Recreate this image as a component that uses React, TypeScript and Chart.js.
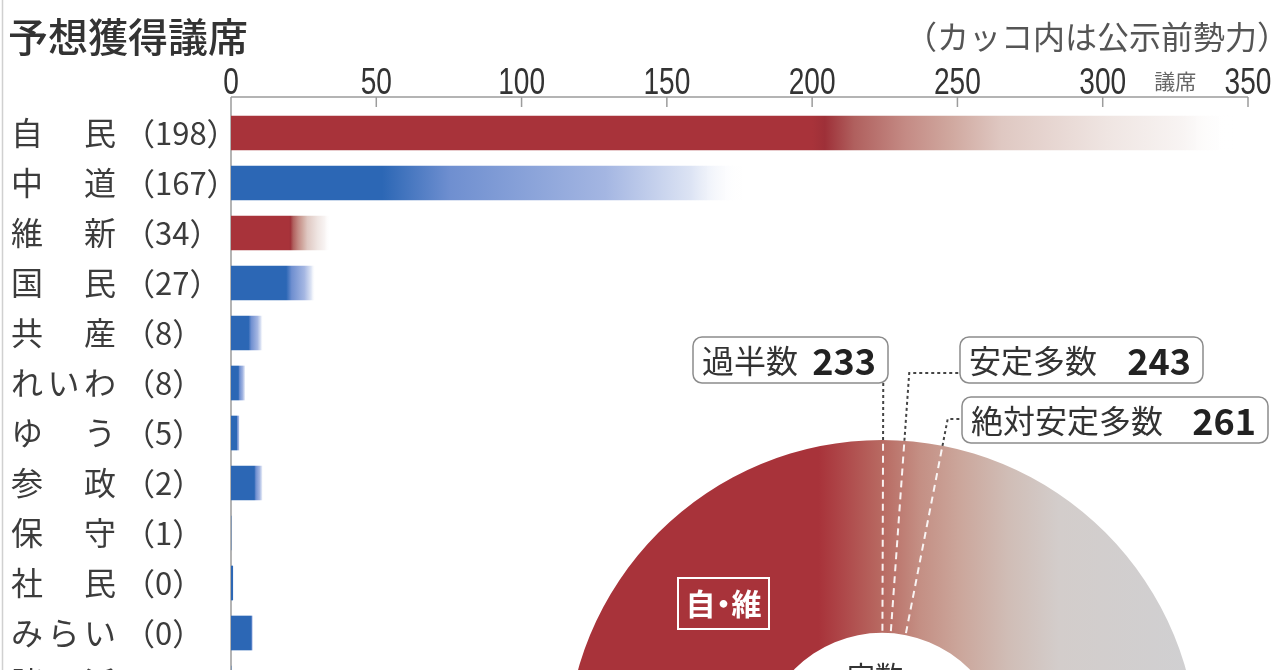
import { useEffect, useRef } from 'react';
import { Chart, registerables } from 'chart.js';

Chart.register(...registerables);

// ---- data ----
const parties = ['自民', '中道', '維新', '国民', '共産', 'れいわ', 'ゆう', '参政', '保守', '社民', 'みらい', '諸派'];
const preElectionSeats: (number | null)[] = [198, 167, 34, 27, 8, 8, 5, 2, 1, 0, 0, null];
const seatsLow = [200, 52, 20, 19, 6, 2.5, 2, 8, 0, 0.6, 7, 0];
const seatsHigh = [345, 176, 34, 29, 11, 5, 3, 11, 0, 0.6, 7.5, 0];
const coalition = ['自民', '維新'];
const xTicks = [0, 50, 100, 150, 200, 250, 300, 350];

const totalSeats = [465];
const thresholdNames = ['過半数', '安定多数', '絶対安定多数'];
const thresholdSeats = [233, 243, 261];

// ---- styles ----
const CJK = '"Noto Sans CJK JP", "Noto Sans", sans-serif';
const LATIN = '"Liberation Sans", Arial, sans-serif';
const RED = '#a8333a';
const BLUE = '#2c67b5';
const RED_FADE: [number, string][] = [
  [0.03, '#9e3038'], [0.1, '#b0605e'], [0.22, '#c48a84'], [0.33, '#d0a89f'],
  [0.45, '#dfc8c2'], [0.7, '#efe5e2'], [0.88, '#f8f4f3'], [1, 'rgba(255,255,255,0)'],
];
const BLUE_FADE: [number, string][] = [
  [0.19, '#6f8fd0'], [0.62, '#a4b6e2'], [0.86, '#dde4f4'], [1, 'rgba(255,255,255,0)'],
];
// horizontal colour stops across the ring (fraction of ring width)
const RING_STOPS: [number, string][] = [
  [0, '#a8333a'], [0.4, '#a8333a'], [0.43, '#ad4346'], [0.5, '#b86a62'], [0.56, '#c48f84'],
  [0.62, '#cba59a'], [0.7, '#d0bdb6'], [0.78, '#d3cdcb'], [1, '#d0d0d2'],
];

const barDecor = {
  id: 'barDecor',
  beforeDatasetsDraw(chart: any) {
    const { ctx, scales: { x } } = chart;
    const axisY = 97;
    const x0 = x.getPixelForValue(0);
    ctx.save();
    ctx.strokeStyle = '#9c9c9c';
    ctx.lineWidth = 1.5;
    ctx.beginPath();
    ctx.moveTo(x0, axisY);
    ctx.lineTo(x0, chart.height);
    ctx.moveTo(x0, axisY);
    ctx.lineTo(x.getPixelForValue(350), axisY);
    xTicks.forEach((v) => {
      const px = x.getPixelForValue(v);
      ctx.moveTo(px, axisY);
      ctx.lineTo(px, axisY + 10);
    });
    ctx.stroke();
    ctx.strokeStyle = '#d0d0d0';
    ctx.beginPath();
    ctx.moveTo(2.5, 0);
    ctx.lineTo(2.5, chart.height);
    ctx.stroke();

    // condensed tick labels
    ctx.fillStyle = '#333';
    ctx.font = `36px ${LATIN}`;
    ctx.textAlign = 'center';
    ctx.textBaseline = 'alphabetic';
    xTicks.forEach((v) => {
      ctx.save();
      ctx.translate(x.getPixelForValue(v), 94);
      ctx.scale(0.78, 1);
      ctx.fillText(String(v), 0, 0);
      ctx.restore();
    });
    ctx.restore();
  },
  afterDraw(chart: any) {
    const { ctx, scales: { x, y } } = chart;
    ctx.save();
    ctx.textBaseline = 'middle';
    ctx.textAlign = 'left';
    ctx.fillStyle = '#333';
    ctx.font = `500 40px ${CJK}`;
    ctx.fillText('予想獲得議席', 8, 37);

    ctx.font = `32px ${CJK}`;
    ctx.fillStyle = '#555';
    ctx.textAlign = 'right';
    ctx.fillText('（カッコ内は公示前勢力）', 1289, 37);

    ctx.textAlign = 'center';
    ctx.font = `21px ${CJK}`;
    ctx.fillStyle = '#666';
    ctx.fillText('議席', x.getPixelForValue(325), 81);

    ctx.textAlign = 'left';
    ctx.fillStyle = '#3c3c3c';
    parties.forEach((name, i) => {
      const py = y.getPixelForValue(i);
      const chars = [...name];
      const slots = chars.length === 2 ? [0, 2] : [0, 1, 2];
      ctx.font = `32px ${CJK}`;
      chars.forEach((ch, k) => ctx.fillText(ch, 11 + slots[k] * 36.5, py));
      const n = preElectionSeats[i];
      if (n !== null) {
        ctx.font = `31px ${CJK}`;
        ctx.fillText(`（${n}）`, 124, py);
      }
    });
    ctx.restore();
  },
};

function SeatBars() {
  const canvasRef = useRef<HTMLCanvasElement>(null);

  useEffect(() => {
    if (!canvasRef.current) return;
    const chart = new Chart(canvasRef.current, {
      type: 'bar',
      data: {
        labels: parties,
        datasets: [{
          data: seatsHigh,
          barThickness: 34,
          borderWidth: 0,
          backgroundColor: (c: any) => {
            const i = c.dataIndex;
            const isRuling = coalition.includes(parties[i]);
            const base = isRuling ? RED : BLUE;
            const fade = isRuling ? RED_FADE : BLUE_FADE;
            const xs = c.chart.scales?.x;
            if (!xs || i === undefined) return base;
            const x0 = xs.getPixelForValue(0);
            const xl = xs.getPixelForValue(seatsLow[i]);
            const xh = xs.getPixelForValue(seatsHigh[i]);
            if (![x0, xl, xh].every(Number.isFinite) || xh - xl < 1) return base;
            const span = xh - x0;
            const g = c.chart.ctx.createLinearGradient(x0, 0, xh, 0);
            g.addColorStop(0, base);
            g.addColorStop((xl - x0) / span, base);
            fade.forEach(([t, col]) => g.addColorStop(Math.min(1, (xl - x0 + t * (xh - xl)) / span), col));
            return g;
          },
        }],
      },
      options: {
        indexAxis: 'y',
        animation: false,
        responsive: true,
        maintainAspectRatio: false,
        layout: { padding: { left: 231, right: 32, top: 0, bottom: 0 } },
        plugins: { legend: { display: false }, tooltip: { enabled: false } },
        events: [],
        scales: {
          x: {
            position: 'top',
            min: 0,
            max: 350,
            afterBuildTicks: (s: any) => { s.ticks = xTicks.map((v) => ({ value: v })); },
            afterFit: (s: any) => { s.height = 108; },
            ticks: { display: false },
            grid: { display: false, drawTicks: false },
            border: { display: false },
          },
          y: { display: false },
        },
      },
      plugins: [barDecor],
    });
    return () => { chart.destroy(); };
  }, []);

  return (
    <div style={{ position: 'absolute', left: 0, top: 0, width: 1280, height: 708 }}>
      <canvas ref={canvasRef} />
    </div>
  );
}

// annotation layout in donut-canvas coordinates
const BOXES = [
  { left: 133, top: 17, width: 195 },
  { left: 400, top: 17, width: 243 },
  { left: 402, top: 77, width: 306 },
];
const LEADERS = [
  { topY: 63, toX: null as number | null },
  { topY: 53, toX: 400 },
  { topY: 99, toX: 402 },
];

function roundRect(ctx: CanvasRenderingContext2D, x: number, y: number, w: number, h: number, r: number) {
  ctx.beginPath();
  ctx.moveTo(x + r, y);
  ctx.arcTo(x + w, y, x + w, y + h, r);
  ctx.arcTo(x + w, y + h, x, y + h, r);
  ctx.arcTo(x, y + h, x, y, r);
  ctx.arcTo(x, y, x + w, y, r);
  ctx.closePath();
}

const ringDecor = {
  id: 'ringDecor',
  afterDatasetsDraw(chart: any) {
    const { ctx } = chart;
    const arc = chart.getDatasetMeta(0).data[0];
    const { x: cx, y: cy, innerRadius, outerRadius } = arc.getProps(['x', 'y', 'innerRadius', 'outerRadius'], true);
    const total = totalSeats[0];
    const ang = (s: number) => Math.PI + (s / total) * Math.PI;
    ctx.save();

    // dashed threshold lines across the ring
    ctx.strokeStyle = 'rgba(255,255,255,0.9)';
    ctx.lineWidth = 2;
    ctx.setLineDash([7, 5]);
    thresholdSeats.forEach((s) => {
      const a = ang(s);
      ctx.beginPath();
      ctx.moveTo(cx + (innerRadius + 2) * Math.cos(a), cy + (innerRadius + 2) * Math.sin(a));
      ctx.lineTo(cx + outerRadius * Math.cos(a), cy + outerRadius * Math.sin(a));
      ctx.stroke();
    });

    // leader lines above the ring
    ctx.strokeStyle = '#444';
    ctx.lineWidth = 2;
    ctx.setLineDash([3, 3]);
    thresholdSeats.forEach((s, i) => {
      const a = ang(s);
      const px = cx + outerRadius * Math.cos(a);
      const py = cy + outerRadius * Math.sin(a);
      const t = (py - LEADERS[i].topY) / -Math.sin(a);
      const qx = px + t * Math.cos(a);
      const qy = LEADERS[i].topY;
      ctx.beginPath();
      ctx.moveTo(px, py);
      ctx.lineTo(qx, qy);
      if (LEADERS[i].toX !== null) ctx.lineTo(LEADERS[i].toX as number, qy);
      ctx.stroke();
    });
    ctx.setLineDash([]);

    // threshold boxes
    thresholdNames.forEach((name, i) => {
      const b = BOXES[i];
      const h = 46;
      roundRect(ctx, b.left, b.top, b.width, h, 9);
      ctx.fillStyle = '#fff';
      ctx.fill();
      ctx.strokeStyle = '#8c8c8c';
      ctx.lineWidth = 1.5;
      ctx.stroke();
      ctx.textBaseline = 'middle';
      ctx.fillStyle = '#333';
      ctx.textAlign = 'left';
      ctx.font = `32px ${CJK}`;
      ctx.fillText(name, b.left + 9, b.top + h / 2 + 1);
      ctx.textAlign = 'right';
      ctx.fillStyle = '#222';
      ctx.font = `bold 36px ${CJK}`;
      ctx.fillText(String(thresholdSeats[i]), b.left + b.width - 12, b.top + h / 2 + 1);
    });

    // 自・維 label
    const lx = cx - 205;
    const ly = cy - 179;
    ctx.fillStyle = RED;
    ctx.fillRect(lx, ly, 93, 53);
    ctx.strokeStyle = '#fff';
    ctx.lineWidth = 2;
    ctx.strokeRect(lx + 1, ly + 1, 91, 51);
    ctx.fillStyle = '#fff';
    ctx.textAlign = 'center';
    ctx.textBaseline = 'middle';
    ctx.font = `bold 30px ${CJK}`;
    (ctx as any).letterSpacing = '-7px';
    ctx.fillText('自・維', lx + 43, ly + 27);
    (ctx as any).letterSpacing = '0px';

    // centre text
    ctx.fillStyle = '#333';
    ctx.textBaseline = 'top';
    ctx.font = `28px ${CJK}`;
    ctx.fillText('定数', cx - 7, cy - 94);
    ctx.font = `bold 30px ${CJK}`;
    ctx.fillText(String(total), cx - 7, cy - 60);
    ctx.restore();
  },
};

function SeatRing() {
  const canvasRef = useRef<HTMLCanvasElement>(null);

  useEffect(() => {
    if (!canvasRef.current) return;
    const chart = new Chart(canvasRef.current, {
      type: 'doughnut',
      data: {
        labels: ['定数'],
        datasets: [{
          data: totalSeats,
          borderWidth: 0,
          backgroundColor: (c: any) => {
            const area = c.chart.chartArea;
            if (!area || !Number.isFinite(area.left)) return RING_STOPS[0][1];
            const g = c.chart.ctx.createLinearGradient(area.left, 0, area.right, 0);
            RING_STOPS.forEach(([t, col]) => g.addColorStop(t, col));
            return g;
          },
        }],
      },
      options: {
        animation: false,
        responsive: true,
        maintainAspectRatio: false,
        rotation: -90,
        circumference: 180,
        cutout: '39%',
        events: [],
        layout: { padding: { left: 6, right: 82, top: 120, bottom: 0 } },
        plugins: { legend: { display: false }, tooltip: { enabled: false } },
      },
      plugins: [ringDecor],
    });
    return () => { chart.destroy(); };
  }, []);

  return (
    <div style={{ position: 'absolute', left: 560, top: 320, width: 720, height: 436 }}>
      <canvas ref={canvasRef} />
    </div>
  );
}

export default function App() {
  return (
    <div style={{ position: 'fixed', left: 0, top: 0, width: 1280, height: 670, overflow: 'hidden', background: '#fff' }}>
      <SeatBars />
      <SeatRing />
    </div>
  );
}
